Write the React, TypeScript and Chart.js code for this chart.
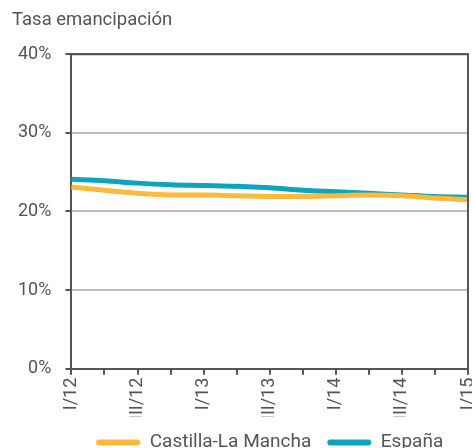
import React, { useEffect, useRef } from "react";
import { Chart, registerables } from "chart.js";

Chart.register(...registerables);

const quarters = ["I/12", "II/12", "III/12", "IV/12", "I/13", "II/13", "III/13", "IV/13", "I/14", "II/14", "III/14", "IV/14", "I/15"];
const castillaLaMancha = [23.1, 22.7, 22.3, 22.1, 22.1, 22.0, 21.9, 21.9, 22.0, 22.1, 22.0, 21.7, 21.5];
const espana = [24.1, 23.9, 23.6, 23.4, 23.3, 23.2, 23.0, 22.7, 22.5, 22.3, 22.1, 21.9, 21.8];
const seriesNames = ["Castilla-La Mancha", "España"];
const yTicks = [0, 10, 20, 30, 40];

const FONT = "Roboto";
const TEXT = "#555555";
const AXIS = "#555555";
const FS = 18;

const frame = {
  id: "frame",
  afterDraw(chart: any) {
    const { ctx, chartArea } = chart;
    ctx.save();
    ctx.strokeStyle = AXIS;
    ctx.lineWidth = 2;
    ctx.beginPath();
    ctx.moveTo(chartArea.left, chartArea.top);
    ctx.lineTo(chartArea.right, chartArea.top);
    ctx.lineTo(chartArea.right, chartArea.bottom);
    ctx.stroke();
    ctx.restore();
  },
};

export default function App() {
  const ref = useRef<HTMLCanvasElement>(null);
  useEffect(() => {
    if (!ref.current) return;
    const chart = new Chart(ref.current, {
      type: "line",
      data: {
        labels: quarters,
        datasets: [
          {
            label: seriesNames[0],
            data: castillaLaMancha,
            borderColor: "#FDB93C",
            backgroundColor: "#FDB93C",
            borderWidth: 5,
            pointRadius: 0,
            tension: 0.4,
            cubicInterpolationMode: "monotone",
          },
          {
            label: seriesNames[1],
            data: espana,
            borderColor: "#0DA5BD",
            backgroundColor: "#0DA5BD",
            borderWidth: 5,
            pointRadius: 0,
            tension: 0.4,
            cubicInterpolationMode: "monotone",
          },
        ],
      },
      options: {
        animation: false,
        responsive: true,
        maintainAspectRatio: false,
        layout: { padding: { left: 12, right: 4, top: 0, bottom: 0 } },
        plugins: {
          title: {
            display: true,
            text: "Tasa emancipación",
            align: "start",
            color: TEXT,
            font: { family: FONT, size: 18.5, weight: "normal" },
            padding: { top: 9, bottom: 23 },
          },
          legend: {
            position: "bottom",
            fullSize: false,
            labels: {
              color: TEXT,
              font: { family: FONT, size: 19 },
              boxWidth: 44,
              boxHeight: 6,
              useBorderRadius: true,
              borderRadius: 3,
              padding: 16,
              generateLabels: (c: any) =>
                c.data.datasets.map((d: any, i: number) => ({
                  text: d.label,
                  fillStyle: d.borderColor,
                  strokeStyle: d.borderColor,
                  lineWidth: 0,
                  borderRadius: 3,
                  datasetIndex: i,
                  fontColor: TEXT,
                })),
            },
          },
          tooltip: { enabled: false },
        },
        scales: {
          x: {
            border: { color: AXIS, width: 2 },
            grid: { drawOnChartArea: false, drawTicks: true, tickLength: 6, tickColor: AXIS, lineWidth: 2 },
            afterFit: (s: any) => {
              s.paddingRight = 0;
              s.paddingLeft = 0;
              s.height = s.height - 6;
            },
            ticks: {
              color: TEXT,
              font: { family: FONT, size: FS },
              autoSkip: false,
              maxRotation: 90,
              minRotation: 90,
              padding: 3,
              callback: (_v: any, i: number) => (i % 2 === 0 ? quarters[i] : ""),
            },
          },
          y: {
            min: yTicks[0],
            max: yTicks[yTicks.length - 1],
            border: { color: AXIS, width: 2 },
            grid: {
              color: (c: any) => (c.tick && c.tick.value === 40 ? AXIS : "#bdbdbd"),
              lineWidth: 2,
              tickLength: 6,
              tickColor: AXIS,
            },
            afterBuildTicks: (s: any) => {
              s.ticks = yTicks.map((v) => ({ value: v }));
            },
            afterFit: (s: any) => {
              s.width = s.width - 8;
            },
            ticks: {
              color: TEXT,
              font: { family: FONT, size: FS },
              padding: 14,
              callback: (v: any) => v + "%",
            },
          },
        },
      },
      plugins: [frame],
    });
    return () => chart.destroy();
  }, []);
  return (
    <div style={{ position: "fixed", left: 0, top: 0, width: 472, height: 462 }}>
      <canvas ref={ref} />
    </div>
  );
}
